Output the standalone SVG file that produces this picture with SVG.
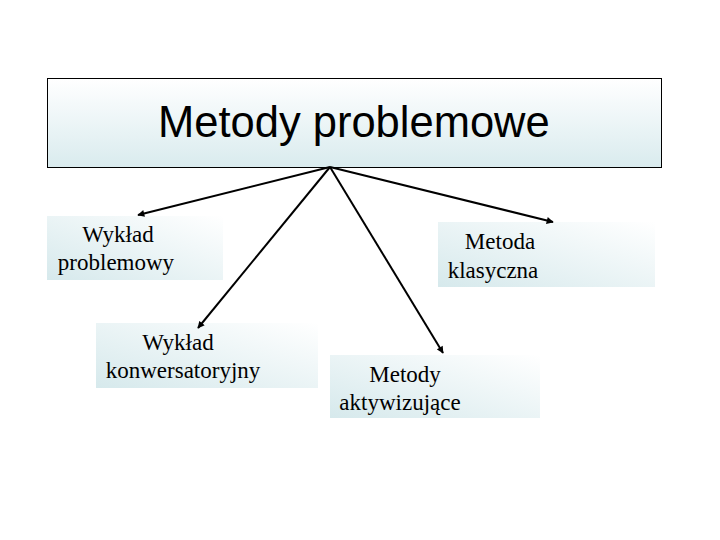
<svg xmlns="http://www.w3.org/2000/svg" width="720" height="540" viewBox="0 0 720 540">
<defs>
<linearGradient id="gTop" x1="0" y1="0" x2="0" y2="1">
<stop offset="0" stop-color="#ffffff"/>
<stop offset="1" stop-color="#d9ebee"/>
</linearGradient>
<linearGradient id="gBox" x1="0" y1="1" x2="1" y2="0">
<stop offset="0" stop-color="#d6e9ec"/>
<stop offset="1" stop-color="#ffffff"/>
</linearGradient>
<marker id="ah" viewBox="0 0 10 10" refX="9" refY="5" markerWidth="8" markerHeight="7" markerUnits="userSpaceOnUse" orient="auto">
<path d="M0,0 L10,5 L0,10 z" fill="#000"/>
</marker>
<style>
.t{font-family:"Liberation Serif","Times New Roman",serif;font-size:23px;fill:#000;text-anchor:middle}
.h{font-family:"Liberation Sans",Arial,sans-serif;font-size:43.5px;fill:#000}
.c{stroke:#000;stroke-width:2;fill:none;marker-end:url(#ah)}
.b{fill:url(#gBox)}
</style>
</defs>
<rect width="720" height="540" fill="#fff"/>
<g id="top">
<rect x="47.5" y="78.5" width="614" height="89" fill="url(#gTop)" stroke="#000" stroke-width="1"/>
<text class="h" x="158" y="137">Metody problemowe</text>
</g>
<g id="n1">
<rect class="b" x="47" y="216" width="176" height="64"/>
<text class="t" x="118" y="242">Wykład</text>
<text class="t" x="116" y="270">problemowy</text>
</g>
<g id="n2">
<rect class="b" x="96" y="323" width="222" height="65"/>
<text class="t" x="178" y="350">Wykład</text>
<text class="t" x="183" y="378">konwersatoryjny</text>
</g>
<g id="n3">
<rect class="b" x="438" y="222" width="217" height="65"/>
<text class="t" x="500" y="249">Metoda</text>
<text class="t" x="493" y="278">klasyczna</text>
</g>
<g id="n4">
<rect class="b" x="330" y="355" width="210" height="63"/>
<text class="t" x="405" y="382">Metody</text>
<text class="t" x="400" y="410">aktywizujące</text>
</g>
<g id="connectors">
<line class="c" x1="330" y1="167" x2="138" y2="215"/>
<line class="c" x1="330" y1="167" x2="198" y2="328"/>
<line class="c" x1="330" y1="167" x2="443" y2="353"/>
<line class="c" x1="330" y1="167" x2="553" y2="222"/>
</g>
</svg>
